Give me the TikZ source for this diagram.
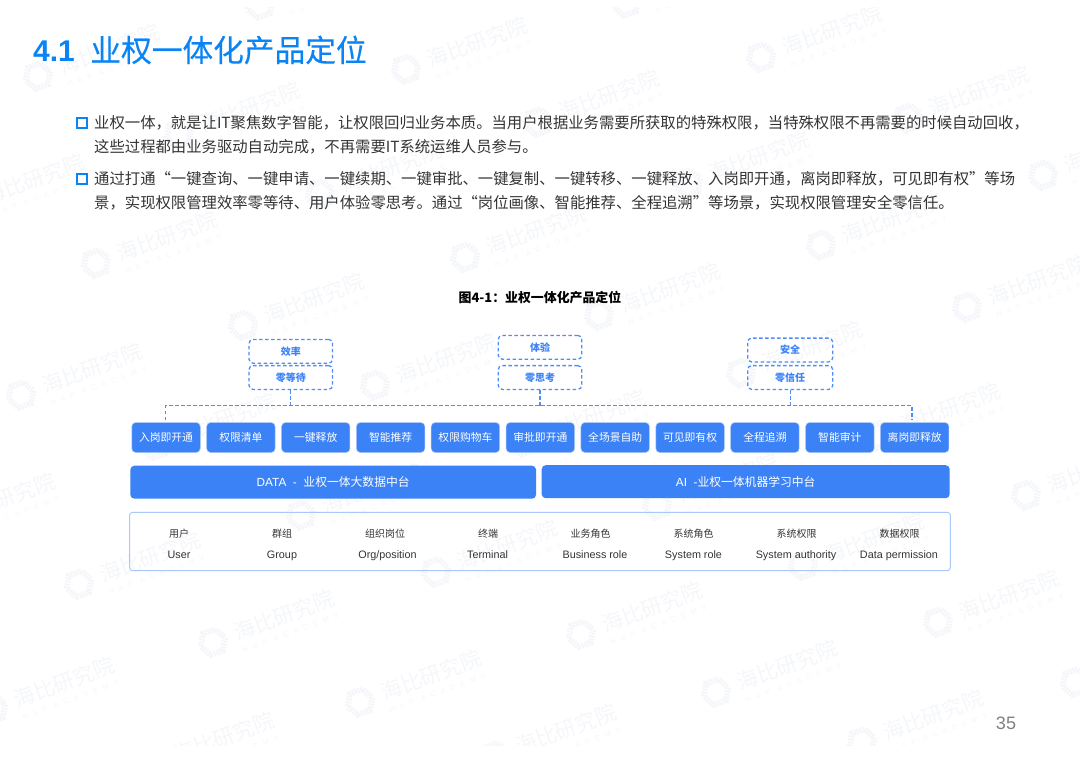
\documentclass[tikz,border=0pt]{standalone}
\usepackage{xcolor}
\usepackage{fontspec}
\setmainfont{Noto Sans CJK SC}
\newfontfamily\latinfont{Liberation Sans}
\newfontfamily\headfont[FakeBold=0.35]{Noto Sans CJK SC}
\newfontfamily\markfont[LetterSpace=70]{Liberation Sans}
\usetikzlibrary{positioning,shapes.geometric}
\definecolor{titleblue}{HTML}{0A84F5}
\definecolor{boxblue}{HTML}{3B82F6}
\definecolor{dashblue}{HTML}{4F8DF6}
\definecolor{edgeblue}{HTML}{A9C8FA}
\definecolor{bodygray}{HTML}{333333}
\definecolor{markgray}{HTML}{F4F6F9}

\begin{document}
\begin{tikzpicture}[
  x=1pt,y=-1pt,
  goal/.style={draw=dashblue,dashed,dash pattern=on 3.5pt off 2.5pt,line width=1.3pt,rounded corners=4pt,
    minimum width=83.5pt,minimum height=23.8pt,inner sep=0pt,text=boxblue,font=\fontsize{10}{12}\selectfont\bfseries},
  scene/.style={fill=boxblue,draw=edgeblue,line width=.5pt,rounded corners=4pt,minimum width=68.5pt,minimum height=30pt,
    inner sep=0pt,text=white,font=\fontsize{10.8}{13}\selectfont},
  platform/.style={fill=boxblue,rounded corners=4pt,minimum height=33pt,inner sep=0pt,text=white,
    font=\fontsize{11.8}{14}\selectfont},
  buslink/.style={draw=dashblue,dashed,dash pattern=on 3.5pt off 2.5pt,line width=1.3pt},
  cnlabel/.style={anchor=base,text=bodygray,inner sep=0pt,font=\fontsize{10}{12}\selectfont},
  enlabel/.style={anchor=base,text=bodygray,inner sep=0pt,font=\fontsize{10.8}{12}\latinfont},
  bodyline/.style={anchor=west,inner sep=0pt,text=bodygray,font=\fontsize{15.35}{18}\selectfont},
  bullet/.style={draw=titleblue,line width=2pt,minimum size=9.5pt,inner sep=0pt},
  wmlabel/.style={text=markgray,inner sep=0pt,transform shape},
  wmlogo/.style={regular polygon,regular polygon sides=6,draw=markgray,line width=6pt,dash pattern=on 2pt off 1pt,
    minimum size=26pt,inner sep=0pt,transform shape}
]
  \useasboundingbox (0,0) rectangle (1080,763);
  % watermark, repeated over the page
  \begin{scope}
    \clip (0,7) rectangle (1080,745);
    \foreach \x/\y [count=\i] in {260/5,626/3,38/76,406/69,761/57,179/134,538/122,908/118,
      -37/206,320/194,688/183,1043/175,96/263,465/257,821/245,243/325,599/315,967/307,
      21/395,375/385,741/373,155/445,524/442,879/435,-66/525,301/515,657/505,1026/495,
      79/584,436/572,803/565,213/642,581/634,938/622,-7/709,360/702,716/692,1075/682,
      153/764,495/756,862/742}{
      \begin{scope}[shift={(\x,\y)},rotate=20]
        \node[wmlogo] (logo\i) at (0,0) {};
        \node[wmlabel,font=\fontsize{21}{24}\selectfont] (mark\i) at (76,-1) {海比研究院};
        \node[wmlabel,font=\fontsize{7.5}{9}\markfont] (sub\i) at (76,18) {HAP ACADEMY};
      \end{scope}
    }
  \end{scope}

  % heading and text
  \node[anchor=west,inner sep=0pt,text=titleblue] (title) at (33,50)
    {{\fontsize{30}{36}\latinfont\bfseries 4.1}\hspace{15.5pt}{\fontsize{30.7}{36}\headfont 业权一体化产品定位}};
  \node[bullet] (bulleta) at (82,122.8) {};
  \node[bullet] (bulletb) at (82,178.8) {};
  \node[bodyline] (linea) at (94,123.3) {业权一体，就是让IT聚焦数字智能，让权限回归业务本质。当用户根据业务需要所获取的特殊权限，当特殊权限不再需要的时候自动回收，};
  \node[bodyline] (lineb) at (94,146.7) {这些过程都由业务驱动自动完成，不再需要IT系统运维人员参与。};
  \node[bodyline] (linec) at (94,179) {通过打通“一键查询、一键申请、一键续期、一键审批、一键复制、一键转移、一键释放、入岗即开通，离岗即释放，可见即有权”等场};
  \node[bodyline] (lined) at (94,202.5) {景，实现权限管理效率零等待、用户体验零思考。通过“岗位画像、智能推荐、全程追溯”等场景，实现权限管理安全零信任。};
  \node[inner sep=0pt,text=black,font=\fontsize{12.9}{15}\selectfont\bfseries] (caption) at (540,298) {图4-1：业权一体化产品定位};

  % three goals
  \node[goal] (goala) at (290.8,351.3) {效率};
  \node[goal] (zeroa) at (290.8,377.5) {零等待};
  \node[goal] (goalb) at (540,347.3) {体验};
  \node[goal] (zerob) at (540,377.5) {零思考};
  \node[goal,minimum width=85pt] (goalc) at (790.2,350) {安全};
  \node[goal,minimum width=85pt] (zeroc) at (790.2,377.5) {零信任};

  % scene row
  \foreach \name/\txt [count=\i from 0] in {sa/入岗即开通,sb/权限清单,sc/一键释放,sd/智能推荐,se/权限购物车,sf/审批即开通,
    sg/全场景自助,sh/可见即有权,si/全程追溯,sj/智能审计,sk/离岗即释放}{
    \node[scene] (\name) at (166+74.87*\i,437.5) {\txt};
  }

  % dashed bus
  \coordinate (busmid) at (540,405.7);
  \coordinate (dropl) at (165.7,420);
  \coordinate (dropr) at (912,420);
  \draw[buslink] (dropl) |- (busmid) -| (dropr);
  \draw[buslink] (zeroa) -- (zeroa |- busmid);
  \draw[buslink] (zerob) -- (zerob |- busmid);
  \draw[buslink] (zeroc) -- (zeroc |- busmid);

  % platforms
  \node[platform,minimum width=405.7pt] (data) at (333.2,482.2) {{\latinfont DATA\ \ -\ \ }业权一体大数据中台};
  \node[platform,minimum width=408pt] (ai) at (745.7,481.7) {{\latinfont AI\ \ -}业权一体机器学习中台};

  % subjects
  \node[draw=edgeblue,line width=1pt,rounded corners=3pt,minimum width=820.6pt,minimum height=58.4pt,inner sep=0pt] (subject) at (540,541.5) {};
  \foreach \cx/\ex/\cn/\en [count=\i] in {179/179/用户/User,282/282/群组/Group,385/387.5/组织岗位/Org\slash position,488/487.5/终端/Terminal,
    590.7/595/业务角色/Business role,693.5/693.5/系统角色/System role,796.7/796/系统权限/System authority,899.7/899/数据权限/Data permission}{
    \node[cnlabel] (cn\i) at (\cx,537.3) {\cn};
    \node[enlabel] (en\i) at (\ex,558) {\en};
  }

  \node[inner sep=0pt,text=gray,font=\fontsize{18}{20}\latinfont] (pageno) at (1006,723) {35};
\end{tikzpicture}
\end{document}
